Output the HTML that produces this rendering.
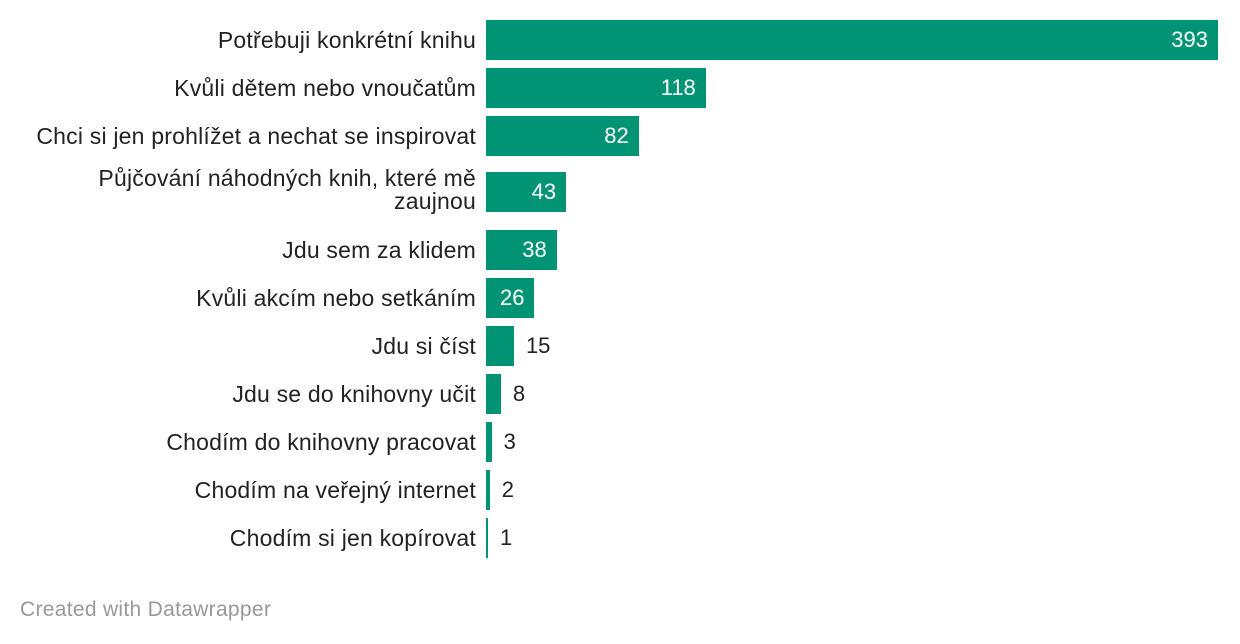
<!DOCTYPE html>
<html><head><meta charset="utf-8"><style>
body{margin:0;width:1240px;height:644px;background:#fff;font-family:"Liberation Sans",Roboto,sans-serif;overflow:hidden;position:relative}
.lbl{position:absolute;right:764px;text-align:right;font-size:23px;letter-spacing:0.2px;color:#222;line-height:26px;width:480px;white-space:nowrap}
.bar{position:absolute;left:486px;height:40px;background:#009474}
.val{position:absolute;font-size:22px;line-height:40px}
#foot{position:absolute;left:20px;top:598px;font-size:21px;letter-spacing:0.3px;color:#999}
</style></head><body>
<div id="chart"></div>
<div id="foot">Created with Datawrapper</div>
<script>
const categories=["Potřebuji konkrétní knihu","Kvůli dětem nebo vnoučatům","Chci si jen prohlížet a nechat se inspirovat","Půjčování náhodných knih, které mě|zaujnou","Jdu sem za klidem","Kvůli akcím nebo setkáním","Jdu si číst","Jdu se do knihovny učit","Chodím do knihovny pracovat","Chodím na veřejný internet","Chodím si jen kopírovat"];
const values=[393,118,82,43,38,26,15,8,3,2,1];
const chart=document.getElementById('chart');
const maxV=Math.max(...values);
function xs(v){return v/maxV*732;}
let y=20;
categories.forEach((c,i)=>{
  const two=c.indexOf('|')>=0;
  if(two) y+=8;
  const rowTop=y;
  const lab=document.createElement('div');
  lab.className='lbl';
  
  
  if(two){lab.innerHTML=c.split('|').join('<br>');lab.style.top=(rowTop-5)+'px';lab.style.lineHeight='23px';}
  else{lab.textContent=c;lab.style.top=(rowTop+7)+'px';}
  chart.appendChild(lab);
  const w=Math.max(2,xs(values[i]));
  const b=document.createElement('div');
  b.className='bar';
  
  
  b.style.top=rowTop+'px';b.style.width=w+'px';
  chart.appendChild(b);
  const v=document.createElement('div');
  v.className='val';
  
  
  v.textContent=values[i];
  v.style.top=rowTop+'px';
  if(w>45){v.style.color='#fff';v.style.right=(1240-486-w+10)+'px';}
  else{v.style.color='#222';v.style.left=(486+w+12)+'px';}
  chart.appendChild(v);
  y+= two?58:48;
});
</script>
</body></html>
